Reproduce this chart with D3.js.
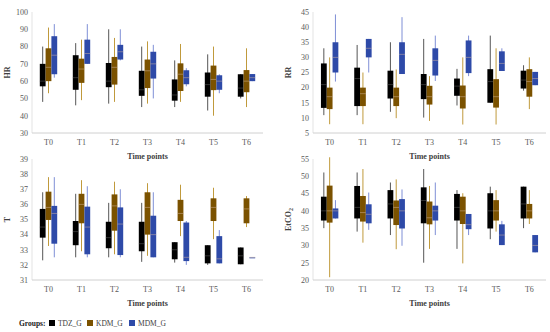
<!DOCTYPE html>
<html><head><meta charset="utf-8">
<script src="https://cdn.jsdelivr.net/npm/d3@7"></script>
<style>
body{margin:0;background:#fff;}
svg{display:block;font-family:"Liberation Serif","DejaVu Serif",serif;}
</style></head>
<body>
<svg id="c" width="550" height="332"></svg>
<script>
// ---- data: [min, q1, median, q3, max] per time point ----
const categories = ["T0","T1","T2","T3","T4","T5","T6"];
const groups = ["TDZ_G","KDM_G","MDM_G"];

const hrTDZ = [[48,57,60,70,80],[46,55,62,75,82],[47,56.5,60,70.5,90],[45,51.5,55,66,80],[45,48.7,52,61,72],[43,51,58,65,75.5],[50,51,56,64,64]];
const hrKDM = [[53,60,68,79,91],[49,59,67,73,84],[48,58,68,74,85],[47,56,66,72.5,83],[48,54.3,64,70.3,81.5],[40,54.8,61,69,80],[45,53.6,60,66.4,79]];
const hrMDM = [[62,64,75,86,93],[70,70,76,84,93],[72,72.5,77,81,90],[50,61.5,70,77,81],[57,58.2,62,66.3,67.5],[53,55,60,63.4,64],[60,60,62,64.1,64.1]];

const rrTDZ = [[10.9,13.3,21,28,33],[10.9,13.9,23,26.6,34.1],[12,16.4,21,25.6,35],[10.1,16.2,21,24.5,36.1],[14.1,17.3,20.5,23,26.2],[15,15,22,26.1,37.2],[19,19.7,22.5,25.6,27.4]];
const rrKDM = [[7.9,12.9,17,20,30],[7.9,13.9,18,20,25],[9.9,13.9,17,20,26],[9,14.4,17,20.6,23.8],[7.8,13.1,17,20.7,30],[7.8,13.4,17,22.8,33],[12.9,17,22,26.1,30]];
const rrMDM = [[22,25,30,35,44.2],[25,30,33,36.1,36.1],[24.5,24.5,31,35,43.3],[22.2,24,29,33,37.2],[23.8,24.8,30,35.6,37.2],[25.5,25.5,28,32,33],[20.8,20.8,23,25.2,25.2]];

const tTDZ = [[32.3,33.8,34.5,35.7,36.8],[32.5,33.3,34.2,34.9,36.7],[32.5,33.1,33.8,34.85,36.1],[32.2,32.9,33.4,34.85,36.1],[32.15,32.37,33,33.5,33.5],[32,32.1,32.6,33.3,33.3],[32.04,32.04,32.6,33.15,33.15]];
const tKDM = [[33.25,34.97,35.8,36.84,37.8],[32.9,34.75,36,36.7,37.6],[32.7,34.26,35.9,36.66,37.5],[32.6,34,35.8,36.8,37.4],[33.9,34.9,35.4,36.3,37.3],[33.7,34.9,35.8,36.4,37.1],[34.5,34.75,35.7,36.4,36.55]];
const tMDM = [[32.5,33.4,35.4,35.9,37.8],[32.5,32.7,34.5,35.85,37.2],[32.5,32.65,34.7,35.8,37],[32.5,32.5,34,35.25,36.8],[32,32.25,32.5,34.8,34.9],[32.1,32.1,32.4,33.9,34.3],[32.5,32.5,32.5,32.5,32.5]];

const etTDZ = [[35,37.2,40,44.1,51.1],[34,37.8,41,47.2,51.1],[33,37.8,42,46,48.2],[25,36.4,43,46.8,52.1],[29,37.2,41,44.9,46],[31.8,34.9,40,45.1,47],[35,37.8,42,47,47]];
const etKDM = [[20.8,36.6,40,47.3,55.5],[30.8,36.9,39.5,44.3,52.1],[28.9,35.9,41,43,49.1],[29,36.1,38,42.7,47.2],[24.8,36.2,40,44.1,45.1],[34,37.2,40,43.1,46],[36.2,37.8,40,42,46]];
const etMDM = [[37.8,37.8,40,40.7,43.1],[34.5,36.4,39,41.9,45.3],[29.9,34.9,40,43.4,46.2],[33,37.2,40,41.5,48.2],[33,34.7,36,39.1,39.1],[30.1,30.1,33,36.1,37.1],[28,28,30,33,33]];

const hrTicks = [30,40,50,60,70,80,90,100];
const rrTicks = [5,10,15,20,25,30,35,40,45];
const tTicks = [31,32,33,34,35,36,37,38,39];
const etTicks = [20,25,30,35,40,45,50,55];

const boxColors = ["#000000","#7b5200","#2e4aa8"];
const whiskerColors = ["#555555","#c09a3c","#7f8fd6"];

const svg = d3.select("#c");

function panel(o){
  const g = svg.append("g");
  const x = d3.scaleBand().domain(categories).range([o.x0,o.x1]);
  const y = d3.scaleLinear().domain(o.domain).range([o.yb,o.yt]);
  const inner = d3.scaleBand().domain(groups).range([-8.7,8.7]);

  g.append("line").attr("x1",o.x0).attr("x2",o.x0).attr("y1",o.yt).attr("y2",o.yb).attr("stroke","#e3e3e3");
  g.append("line").attr("x1",o.x0).attr("x2",o.x1).attr("y1",o.yb).attr("y2",o.yb).attr("stroke","#d0d0d0");

  g.selectAll("text.yt").data(o.ticks).join("text").attr("class","yt")
    .attr("x",o.x0-4).attr("y",d=>y(d)).attr("dy","0.35em")
    .attr("text-anchor","end").attr("font-size",8).attr("fill","#595959").text(d=>d);
  g.selectAll("text.xt").data(categories).join("text").attr("class","xt")
    .attr("x",d=>x(d)+x.bandwidth()/2).attr("y",o.yb+12)
    .attr("text-anchor","middle").attr("font-size",8).attr("fill","#595959").text(d=>d);
  g.append("text").attr("x",(o.x0+o.x1)/2).attr("y",o.yb+26).attr("text-anchor","middle")
    .attr("font-size",8).attr("font-weight","bold").attr("fill","#404040").text("Time points");
  const yt = g.append("text").attr("transform",`translate(${o.x0-22},${(o.yt+o.yb)/2}) rotate(-90)`)
    .attr("text-anchor","middle").attr("font-size",8).attr("font-weight","bold").attr("fill","#404040");
  if(o.sub){ yt.text(o.label); yt.append("tspan").attr("font-size",6).attr("dy",2).text(o.sub); }
  else yt.text(o.label);

  o.series.forEach((ser,gi)=>{
    const cx = d=>x(categories[d])+x.bandwidth()/2+inner(groups[gi])+inner.bandwidth()/2;
    ser.forEach((v,i)=>{
      const c = cx(i);
      const w = inner.bandwidth();
      g.append("line").attr("x1",c).attr("x2",c).attr("y1",y(v[0])).attr("y2",y(v[4]))
        .attr("stroke",whiskerColors[gi]).attr("stroke-width",1);
      const top = y(v[3]), bot = y(v[1]);
      g.append("rect").attr("x",c-w/2).attr("y",top).attr("width",w).attr("height",Math.max(1,bot-top))
        .attr("fill",boxColors[gi]);
      g.append("line").attr("x1",c-w/2).attr("x2",c+w/2).attr("y1",y(v[2])).attr("y2",y(v[2]))
        .attr("stroke", gi===0?"#666":"#d8b8a0").attr("stroke-opacity",0.6).attr("stroke-width",0.8);
    });
  });
}

panel({x0:32,x1:263,yt:12,yb:133,domain:[30,100],ticks:hrTicks,label:"HR",series:[hrTDZ,hrKDM,hrMDM]});
panel({x0:313,x1:546,yt:12,yb:133,domain:[5,45],ticks:rrTicks,label:"RR",series:[rrTDZ,rrKDM,rrMDM]});
panel({x0:32,x1:263,yt:159,yb:280,domain:[31,39],ticks:tTicks,label:"T",series:[tTDZ,tKDM,tMDM]});
panel({x0:313,x1:546,yt:159,yb:280,domain:[20,55],ticks:etTicks,label:"EtCO",sub:"2",series:[etTDZ,etKDM,etMDM]});

// legend
const lg = svg.append("g").attr("transform","translate(0,323)");
lg.append("text").attr("x",19).attr("y",0).attr("dy","0.35em").attr("font-size",7.5).attr("font-weight","bold").attr("fill","#222").text("Groups:");
const lx = [49,87,129];
groups.forEach((gname,i)=>{
  lg.append("rect").attr("x",lx[i]).attr("y",-3).attr("width",6).attr("height",6).attr("fill",boxColors[i]);
  lg.append("text").attr("x",lx[i]+9).attr("y",0).attr("dy","0.35em").attr("font-size",7.5).attr("fill","#404040").text(gname);
});
</script>
</body></html>
